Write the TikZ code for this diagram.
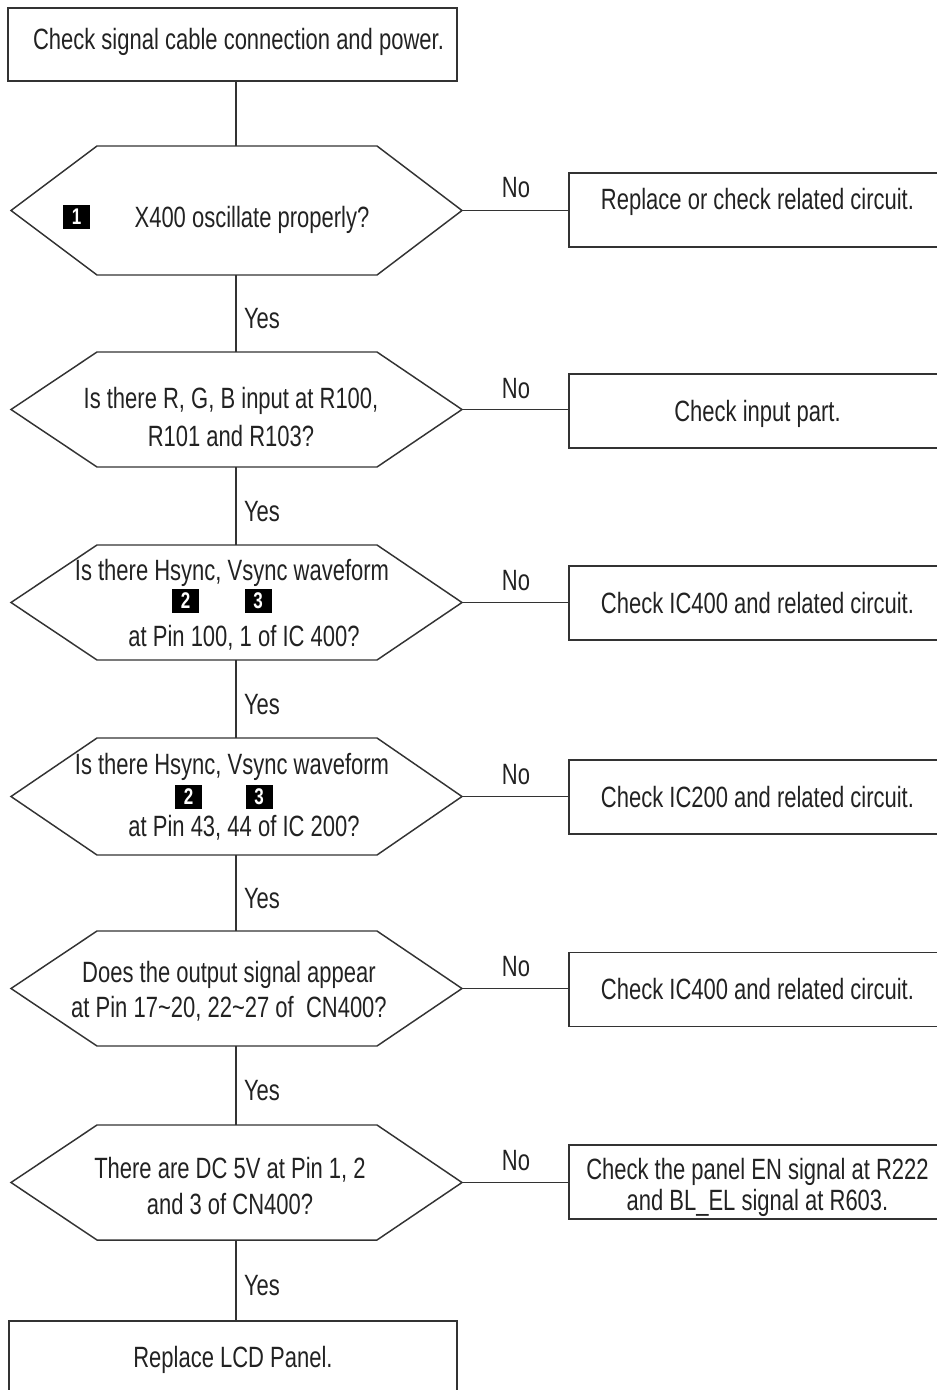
\documentclass[tikz,border=0pt]{standalone}
\usepackage{fontspec}
\setmainfont{Liberation Sans}[FakeStretch=0.75]
\definecolor{linec}{HTML}{333333}
\definecolor{textc}{HTML}{222222}
\newcommand\lines[1]{\begin{tabular}[t]{@{}c@{}}#1\end{tabular}}
\newcommand\txt[2]{\raisebox{#1}[0pt][0pt]{\lines{#2}}}
\newcommand\hexa[3]{%
  \draw[conn] (11,#2) coordinate (#1-w) -- (97,{#2-#3}) -- (377,{#2-#3}) -- (462,#2) coordinate (#1-e) -- (377,{#2+#3}) -- (97,{#2+#3}) -- cycle;
  \coordinate (#1-n) at (236,{#2-#3});
  \coordinate (#1-s) at (236,{#2+#3});}
\begin{document}
\begin{tikzpicture}[x=0.75pt,y=-0.75pt,
  font=\fontsize{22}{27.5}\selectfont,
  conn/.style={draw=linec, line width=1.1pt},
  box/.style={draw=linec, line width=1.1pt, inner sep=0pt, text=textc},
  rbox/.style={box, minimum width=282.75pt, minimum height=55.5pt},
  lbl/.style={anchor=base, inner sep=0pt, text=textc},
  badge/.style={fill=black, text=white, inner sep=0pt, minimum width=20.25pt, minimum height=18pt, font=\bfseries\fontsize{17}{17}\selectfont}]
\useasboundingbox (0,0) rectangle (937,1390);
\clip (0,0) rectangle (937,1390);

% start box
\node[box, minimum width=336.75pt, minimum height=54.75pt] (start) at (232.5,44.5) {\txt{-3.75pt}{\hspace*{9pt}Check signal cable connection and power.}};

% decisions
\hexa{d1}{210.5}{64.5}
\hexa{d2}{409.5}{57.5}
\hexa{d3}{602.5}{57.5}
\hexa{d4}{796.5}{58.5}
\hexa{d5}{988.5}{57.5}
\hexa{d6}{1182.5}{57.5}

\node[lbl] (q1) at (252,227) {X400 oscillate properly?};
\node[badge] (k1) at (76.5,216.5) {1};
\node[lbl] (q2) at (231,408) {\lines{Is there R, G, B input at R100,\\[1pt]R101 and R103?}};
\node[lbl] (q3) at (232,580) {\lines{Is there Hsync, Vsync waveform\\[22pt]\hspace*{18pt}at Pin 100, 1 of IC 400?}};
\node[badge] (k2) at (185.5,600.5) {2};
\node[badge] (k3) at (258,600.5) {3};
\node[lbl] (q4) at (232,774) {\lines{Is there Hsync, Vsync waveform\\[19pt]\hspace*{18pt}at Pin 43, 44 of IC 200?}};
\node[badge] (k4) at (188.5,796.5) {2};
\node[badge] (k5) at (259,796.5) {3};
\node[lbl] (q5) at (229,982) {\lines{Does the output signal appear\\[-1.25pt]at Pin 17\textasciitilde 20, 22\textasciitilde 27 of\ \ CN400?}};
\node[lbl] (q6) at (230,1178) {\lines{There are DC 5V at Pin 1, 2\\and 3 of CN400?}};

% right boxes
\node[rbox] (r1) at (757.5,210) {\txt{0.75pt}{Replace or check related circuit.}};
\node[rbox] (r2) at (757.5,411) {\txt{-7.5pt}{Check input part.}};
\node[rbox] (r3) at (757.5,603) {\txt{-7.5pt}{Check IC400 and related circuit.}};
\node[rbox] (r4) at (757.5,797) {\txt{-7.5pt}{Check IC200 and related circuit.}};
\node[rbox] (r5) at (757.5,989.5) {\txt{-7.5pt}{Check IC400 and related circuit.}};
\node[rbox] (r6) at (757.5,1182) {\txt{2.25pt}{Check the panel EN signal at R222\\[-4pt]and BL\_EL signal at R603.}};

% end box
\node[box, minimum width=336pt, minimum height=59.25pt] (end) at (233,1360.5) {\txt{-4.875pt}{Replace LCD Panel.}};

% vertical connectors
\draw[conn] (start.south -| d1-n) -- (d1-n);
\draw[conn] (d1-s) -- (d2-n);
\draw[conn] (d2-s) -- (d3-n);
\draw[conn] (d3-s) -- (d4-n);
\draw[conn] (d4-s) -- (d5-n);
\draw[conn] (d5-s) -- (d6-n);
\draw[conn] (d6-s) -- (d6-s |- end.north);

% horizontal connectors
\draw[conn] (d1-e) -- (d1-e -| r1.west);
\draw[conn] (d2-e) -- (d2-e -| r2.west);
\draw[conn] (d3-e) -- (d3-e -| r3.west);
\draw[conn] (d4-e) -- (d4-e -| r4.west);
\draw[conn] (d5-e) -- (d5-e -| r5.west);
\draw[conn] (d6-e) -- (d6-e -| r6.west);

% labels
\node[lbl] (y1) at (262,328.5) {Yes};
\node[lbl] (y2) at (262,521) {Yes};
\node[lbl] (y3) at (262,714) {Yes};
\node[lbl] (y4) at (262,908) {Yes};
\node[lbl] (y5) at (262,1100.5) {Yes};
\node[lbl] (y6) at (262,1295.5) {Yes};
\node[lbl] (n1) at (516,197) {No};
\node[lbl] (n2) at (516,398) {No};
\node[lbl] (n3) at (516,590) {No};
\node[lbl] (n4) at (516,784) {No};
\node[lbl] (n5) at (516,976) {No};
\node[lbl] (n6) at (516,1170) {No};
\end{tikzpicture}
\end{document}
